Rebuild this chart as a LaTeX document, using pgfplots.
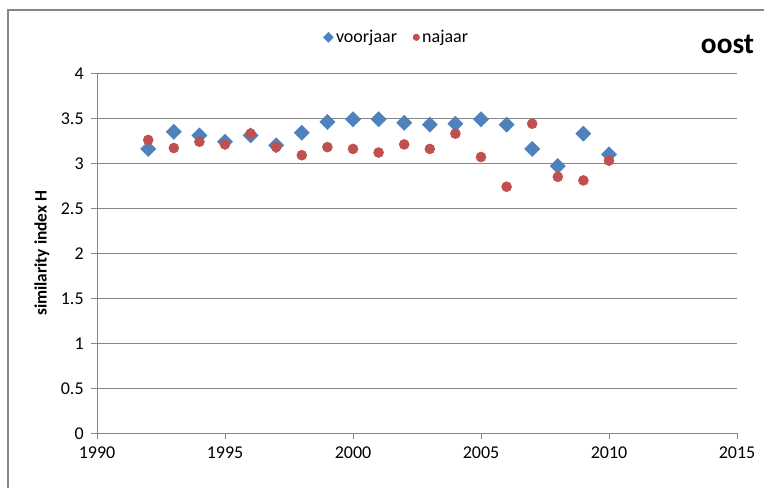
\documentclass[border=0pt]{standalone}
\usepackage{fontspec}
\setmainfont{Carlito}
\usepackage{pgfplots}
\pgfplotsset{compat=1.18}
\definecolor{xlblue}{HTML}{4F81BD}
\definecolor{xlred}{HTML}{C0504D}
\definecolor{xlgrid}{HTML}{868686}

\pgfplotstableread{
year voorjaar najaar
1992 3.16 3.26
1993 3.35 3.17
1994 3.31 3.24
1995 3.24 3.21
1996 3.31 3.33
1997 3.20 3.18
1998 3.34 3.09
1999 3.46 3.18
2000 3.49 3.16
2001 3.49 3.12
2002 3.45 3.21
2003 3.43 3.16
2004 3.44 3.33
2005 3.49 3.07
2006 3.43 2.74
2007 3.16 3.44
2008 2.97 2.85
2009 3.33 2.81
2010 3.10 3.03
}\oostdata

\begin{document}
\begin{tikzpicture}
\useasboundingbox (0,0) rectangle (573pt,366pt);
\draw[xlgrid, line width=1pt] (6pt,0) -- (6pt,358.5pt) -- (573pt,358.5pt);
\begin{axis}[
  at={(72.75pt,41pt)}, anchor=south west,
  scale only axis, width=480pt, height=270pt,
  xmin=1990, xmax=2015, ymin=0, ymax=4,
  xtick={1990,1995,...,2015},
  ytick={0,0.5,...,4},
  axis lines*=left,
  axis line style={draw=xlgrid, line width=0.6pt, -},
  ymajorgrids, grid style={draw=xlgrid, line width=0.6pt},
  tick align=outside, major tick length=4.5pt,
  tick style={draw=xlgrid, line width=0.6pt},
  ticklabel style={font=\fontsize{13.5}{15}\selectfont},
  /pgf/number format/assume math mode=true,
  /pgf/number format/1000 sep={},
  yticklabel style={/pgf/number format/fixed, /pgf/number format/precision=1, xshift=-2pt},
  xticklabel style={yshift=-2pt},
  ylabel={\bfseries similarity index H},
  ylabel style={at={(rel axis cs:-0.0859,0.5)}, anchor=center, font=\fontsize{13}{15}\selectfont},
  clip=false,
  legend columns=2,
  legend style={draw=none, fill=none, at={(rel axis cs:0.469,1.10)}, anchor=center,
    font=\fontsize{13.5}{15}\selectfont, /tikz/every even column/.append style={column sep=10pt}},
  legend image post style={scale=0.65},
]
\addplot[only marks, mark=square*, mark size=4pt, mark options={rotate=45, fill=xlblue, draw=xlblue}]
  table[x=year, y=voorjaar] {\oostdata};
\addlegendentry{voorjaar}
\addplot[only marks, mark=*, mark size=3.75pt, mark options={fill=xlred, draw=xlred}]
  table[x=year, y=najaar] {\oostdata};
\addlegendentry{najaar}
\node[anchor=base east, font=\fontsize{22}{24}\selectfont\bfseries] at (rel axis cs:1.034,1.056) {oost};
\end{axis}
\end{tikzpicture}
\end{document}
